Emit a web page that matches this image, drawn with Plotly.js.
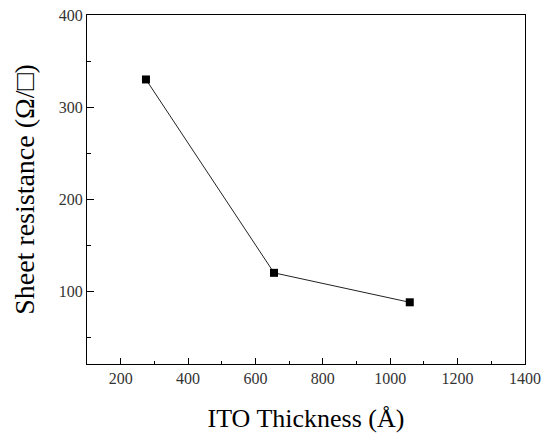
<!DOCTYPE html>
<html>
<head>
<meta charset="utf-8">
<script src="https://cdn.plot.ly/plotly-3.0.1.min.js"></script>
<style>html,body{margin:0;padding:0;background:#fff;}#chart{width:546px;height:434px;}</style>
</head>
<body>
<div id="chart"></div>
<script>
const thickness = [275, 655, 1058];
const sheetResistance = [330, 120, 88];
const xTickVals = [200, 400, 600, 800, 1000, 1200, 1400];
const yTickVals = [100, 200, 300, 400];

const trace = {
  x: thickness,
  y: sheetResistance,
  type: 'scatter',
  mode: 'lines+markers',
  line: {color: '#222', width: 1},
  marker: {symbol: 'square', size: 8, color: '#000'},
  showlegend: false
};

const fontFam = 'Liberation Serif';
const layout = {
  width: 546, height: 434,
  margin: {l: 87, r: 21, t: 15, b: 70},
  paper_bgcolor: '#fff', plot_bgcolor: '#fff',
  font: {family: fontFam, size: 16, color: '#333'},
  xaxis: {
    range: [100, 1400],
    tickvals: xTickVals,
    tickfont: {family: fontFam, size: 16, color: '#333'},
    ticks: 'inside', ticklen: 6, tickwidth: 1, tickcolor: '#000',
    minor: {dtick: 100, tick0: 100, ticks: 'inside', ticklen: 3, tickcolor: '#000', showgrid: false},
    showline: true, linecolor: '#000', linewidth: 1, mirror: true,
    showgrid: false, zeroline: false,
    title: {text: 'ITO Thickness (Å)', font: {family: fontFam, size: 26, color: '#000'}, standoff: 22}
  },
  yaxis: {
    range: [21, 400],
    tickvals: yTickVals,
    tickfont: {family: fontFam, size: 16, color: '#333'},
    ticks: 'inside', ticklen: 7, tickwidth: 1, tickcolor: '#000',
    minor: {dtick: 50, tick0: 0, ticks: 'inside', ticklen: 4, tickcolor: '#000', showgrid: false},
    showline: true, linecolor: '#000', linewidth: 1, mirror: true,
    showgrid: false, zeroline: false,
    title: {text: 'Sheet resistance (Ω/□)', font: {family: fontFam, size: 28, color: '#000'}, standoff: 15}
  }
};

Plotly.newPlot('chart', [trace], layout, {staticPlot: true, displayModeBar: false});
</script>
</body>
</html>
